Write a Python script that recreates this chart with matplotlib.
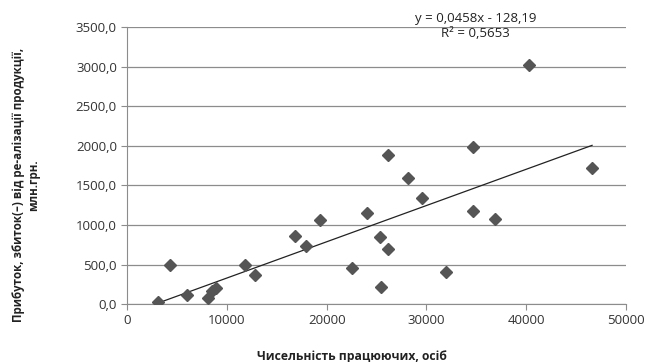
import matplotlib.pyplot as plt
import numpy as np
from matplotlib.ticker import FuncFormatter

# workers count vs profit (mln UAH)
workers = [3100, 4300, 6000, 8100, 8500, 8900, 11800, 12800, 16800, 17900,
           19300, 22500, 24000, 25300, 25400, 26100, 26100, 28100, 29600,
           32000, 34700, 34700, 36900, 40300, 46600]
profit = [20, 500, 120, 80, 160, 200, 500, 370, 860, 740,
          1060, 450, 1150, 850, 220, 690, 1880, 1590, 1340,
          410, 1180, 1990, 1080, 3020, 1720]
slope, intercept = 0.0458, -128.19

plt.rcParams['font.family'] = ['Open Sans', 'DejaVu Sans']

fig = plt.figure(figsize=(6.46, 3.62), dpi=100)
ax = fig.add_axes([0.197, 0.160, 0.772, 0.765])

ax.set_xlim(0, 50000)
ax.set_ylim(0, 3500)
ax.set_xticks(np.arange(0, 50001, 10000))
ax.set_yticks(np.arange(0, 3501, 500))
ax.yaxis.set_major_formatter(FuncFormatter(lambda v, p: f"{v:.1f}".replace(".", ",")))

ax.grid(axis="y", color="#8c8c8c", linewidth=0.9)
ax.set_axisbelow(True)
for s in ["top", "right"]:
    ax.spines[s].set_visible(False)
for s in ["left", "bottom"]:
    ax.spines[s].set_color("#8c8c8c")
ax.tick_params(colors="#8c8c8c", labelcolor="#333333", labelsize=9.5, length=4)

xs = np.array([min(workers), max(workers)])
ax.plot(xs, slope * xs + intercept, color="#222222", linewidth=0.9, zorder=2)
ax.plot(workers, profit, linestyle="none", marker="D", markersize=6.5,
        color="#555555", zorder=3)

ax.text(34900, 3615, "y = 0,0458x - 128,19", ha="center", va="center",
        fontsize=9.5, color="#222222", clip_on=False)
ax.text(34900, 3425, "R² = 0,5653", ha="center", va="center",
        fontsize=9.5, color="#222222", clip_on=False)

ax.set_xlabel("Чисельність працюючих, осіб", fontsize=8.7, fontweight="bold",
              color="#222222")
ax.xaxis.set_label_coords(0.451, -0.165)
ax.set_ylabel("Прибуток, збиток(–) від ре-алізації продукції,\nмлн.грн.",
              fontsize=8.3, fontweight="bold", color="#222222")
ax.yaxis.set_label_coords(-0.175, 0.43)

fig.savefig("out.png", dpi=100)
